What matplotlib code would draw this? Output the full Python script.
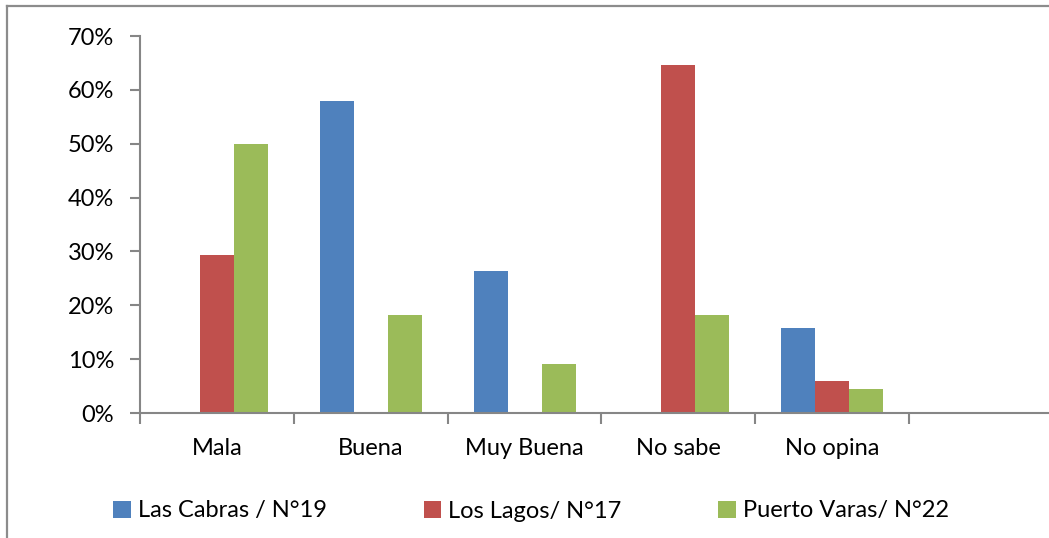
import numpy as np
import matplotlib.pyplot as plt
from matplotlib.lines import Line2D

categories = ['Mala', 'Buena', 'Muy Buena', 'No sabe', 'No opina', '']
las_cabras = [0.0, 0.579, 0.263, 0.0, 0.158, 0.0]
los_lagos = [0.294, 0.0, 0.0, 0.647, 0.059, 0.0]
puerto_varas = [0.50, 0.182, 0.091, 0.182, 0.045, 0.0]
series_labels = ['Las Cabras / N°19', 'Los Lagos/ N°17', 'Puerto Varas/ N°22']
colors = ['#4F81BD', '#C0504D', '#9BBB59']
yticks = [0, 0.1, 0.2, 0.3, 0.4, 0.5, 0.6, 0.7]

plt.rcParams['font.family'] = ['Lato', 'DejaVu Sans']

W, H = 1049, 538
fig = plt.figure(figsize=(W/100, H/100), dpi=100)
ax = fig.add_axes([140/W, 1-413/H, (1063-140)/W, (413-36)/H])

x = np.arange(len(categories))
w = 34/154
series = [las_cabras, los_lagos, puerto_varas]
for k, (vals, c, lab) in enumerate(zip(series, colors, series_labels)):
    ax.bar(x + (k-1)*w, vals, w, color=c, label=lab, linewidth=0)

ax.set_xlim(-0.5, len(categories)-0.5)
ax.set_ylim(0, 0.7)
ax.set_yticks(yticks)
ax.set_yticklabels(['%d%%' % round(v*100) for v in yticks])
ax.set_xticks(x)
ax.set_xticklabels(categories)
ax.set_xticks(np.arange(len(categories)+1) - 0.5, minor=True)
ax.tick_params(axis='x', which='major', length=0, pad=18, labelsize=17)
ax.tick_params(axis='x', which='minor', length=8, width=1.5, color='#868686', direction='out')
ax.tick_params(axis='y', length=7, width=1.5, color='#868686', pad=11.5, labelsize=17)

for s in ['top', 'right']:
    ax.spines[s].set_visible(False)
for s in ['left', 'bottom']:
    ax.spines[s].set_color('#868686')
    ax.spines[s].set_linewidth(1.5)

leg = ax.legend(loc='center left', bbox_to_anchor=(113/W, 1-511/H), bbox_transform=fig.transFigure,
                ncol=3, frameon=False, fontsize=17, handlelength=0.75, handleheight=0.75,
                handletextpad=0.3, columnspacing=4.1, borderaxespad=0, borderpad=0)

# outer frame (only left and top visible in the crop)
fig.add_artist(Line2D([7/W, 7/W], [0, 1-5.5/H], transform=fig.transFigure, color='#8c8c8c', lw=1.6))
fig.add_artist(Line2D([7/W, 1], [1-5.5/H, 1-5.5/H], transform=fig.transFigure, color='#8c8c8c', lw=1.6))

fig.savefig('out.png', dpi=100)
